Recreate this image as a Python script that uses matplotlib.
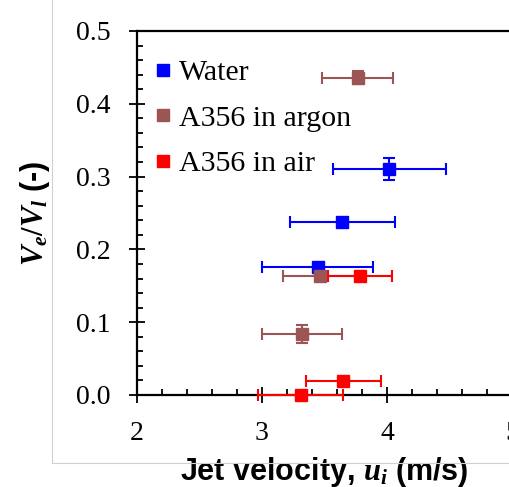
import matplotlib
matplotlib.use('Agg')
import matplotlib.pyplot as plt
from matplotlib.lines import Line2D
from matplotlib.patches import Rectangle
from matplotlib.ticker import MultipleLocator, FormatStrFormatter

# data
water_u = [4.02, 3.64, 3.445]
water_v = [0.310, 0.237, 0.176]
water_uerr = [0.45, 0.42, 0.445]
water_verr = [0.015, 0.0, 0.0]

argon_u = [3.765, 3.46, 3.32]
argon_v = [0.436, 0.163, 0.084]
argon_uerr = [0.285, 0.29, 0.32]
argon_verr = [0.0085, 0.0, 0.0125]

air_u = [3.785, 3.65, 3.31]
air_v = [0.164, 0.019, 0.0]
air_uerr = [0.255, 0.30, 0.34]
air_verr = [0.0, 0.0, 0.0]

labels = ['Water', 'A356 in argon', 'A356 in air']
colors = ['#0000FF', '#9C5555', '#FF0000']

plt.rcParams['font.family'] = 'Liberation Serif'
plt.rcParams['mathtext.fontset'] = 'custom'
plt.rcParams['mathtext.it'] = 'Liberation Serif:italic:bold'
plt.rcParams['mathtext.rm'] = 'Liberation Serif:bold'

fig = plt.figure(figsize=(5.10, 4.87), dpi=100)
ax = fig.add_axes([137 / 510, 1 - 395 / 487, 375 / 510, 364 / 487])

# grey chart-area border (left and bottom edges only are in view)
fig.patches.append(Rectangle((52 / 510, 1 - 463 / 487), 1.0, 1.0, transform=fig.transFigure,
                             fill=False, edgecolor='#D0D0D0', linewidth=0.8))

series = [(water_u, water_v, water_uerr, water_verr),
          (argon_u, argon_v, argon_uerr, argon_verr),
          (air_u, air_v, air_uerr, air_verr)]
for (u, v, ue, ve), c in zip(series, colors):
    eb = ax.errorbar(u, v, xerr=ue, yerr=ve, fmt='s', color=c, ecolor=c, markersize=8,
                     elinewidth=1.5, capsize=4, capthick=1.5, clip_on=False, zorder=3)
    for part in eb.lines[1] + eb.lines[2]:
        part.set_clip_on(False)

ax.set_xlim(2, 5)
ax.set_ylim(0, 0.5)
ax.xaxis.set_major_locator(MultipleLocator(1))
ax.xaxis.set_minor_locator(MultipleLocator(0.2))
ax.yaxis.set_major_locator(MultipleLocator(0.1))
ax.yaxis.set_minor_locator(MultipleLocator(0.02))
ax.yaxis.set_major_formatter(FormatStrFormatter('%.1f'))

ax.spines['right'].set_visible(False)
for s in ['top', 'left', 'bottom']:
    ax.spines[s].set_linewidth(1.6)

ax.tick_params(axis='both', which='major', direction='inout', length=12, width=1.3,
               labelsize=20)
ax.tick_params(axis='both', which='minor', direction='in', length=4, width=1.3)
ax.tick_params(axis='x', which='major', pad=13)
ax.tick_params(axis='y', which='major', pad=13)

ax.set_xlabel('Jet velocity, $u_i$ (m/s)', fontsize=22, fontweight='bold',
              family='Liberation Sans')
ax.xaxis.set_label_coords(0.5, -0.165)
ax.set_ylabel('$V_e/V_l$ (-)', fontsize=22, fontweight='bold', family='Liberation Sans')
ax.yaxis.set_label_coords(-0.227, 0.5)

handles = [Line2D([], [], linestyle='none', marker='s', color=c, markersize=8) for c in colors]
ax.legend(handles, labels, loc='upper left', bbox_to_anchor=(0.005, 0.955), frameon=False,
          fontsize=21.5, handlelength=0.8, handletextpad=0.15, labelspacing=0.62,
          borderaxespad=0)

fig.savefig('out.png', dpi=100)
